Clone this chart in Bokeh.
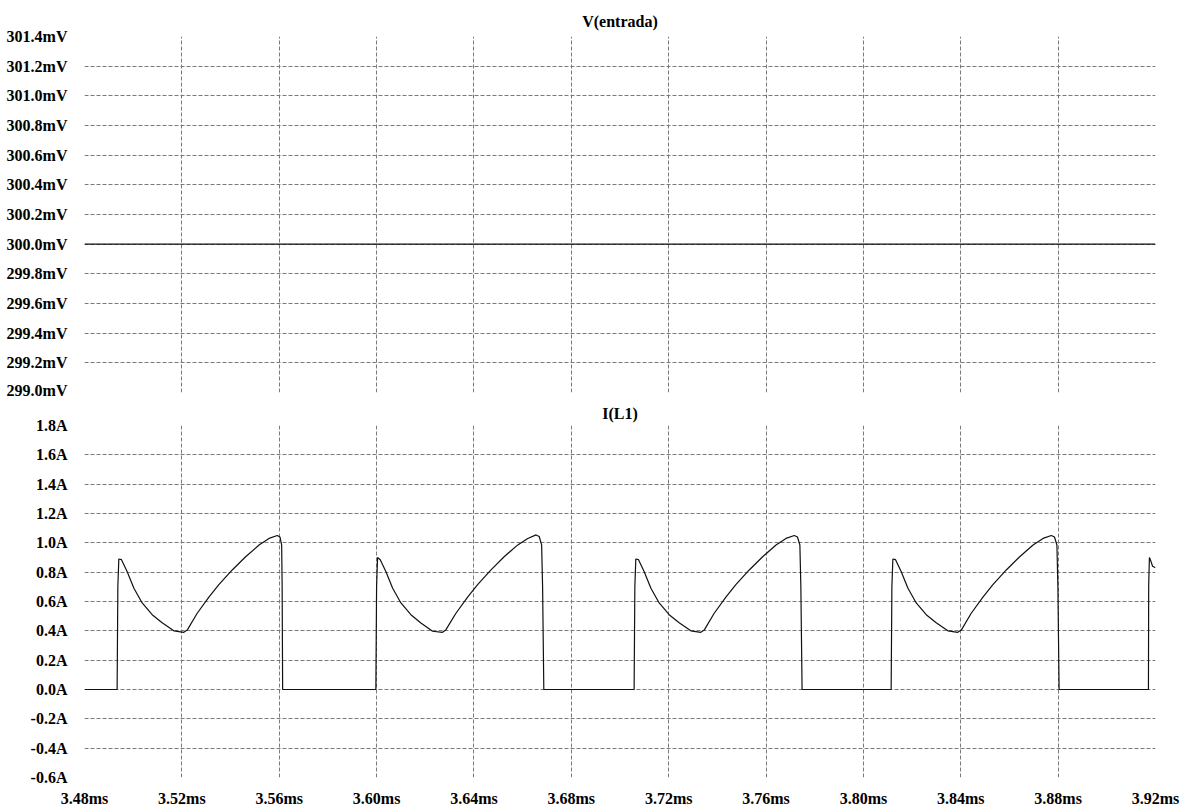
from bokeh.plotting import figure
from bokeh.layouts import column
from bokeh.models import Range1d, FixedTicker, PrintfTickFormatter
from bokeh.embed import file_html
from bokeh.resources import INLINE

# ---------------- data ----------------
x_ticks = [3.48, 3.52, 3.56, 3.60, 3.64, 3.68, 3.72, 3.76, 3.80, 3.84, 3.88, 3.92]
v_ticks = [299.0, 299.2, 299.4, 299.6, 299.8, 300.0, 300.2, 300.4, 300.6, 300.8, 301.0, 301.2, 301.4]
i_ticks = [-0.6, -0.4, -0.2, 0.0, 0.2, 0.4, 0.6, 0.8, 1.0, 1.2, 1.4, 1.6, 1.8]

title_top = "V(entrada)"
title_bottom = "I(L1)"

# V(entrada) in mV vs time in ms
t_v = [3.48, 3.92]
v_entrada = [300.0, 300.0]

# I(L1) in A vs time in ms
t_i = [
    3.4800,
    3.4934, 3.4937, 3.4941, 3.4952, 3.4975, 3.5003, 3.5037, 3.5078, 3.5119, 3.5167, 3.5208, 3.5222,
    3.5263, 3.5311, 3.5352, 3.5407, 3.5462, 3.5517, 3.5558, 3.5592, 3.5603, 3.5610, 3.5612, 3.5614,
    3.5997, 3.6000, 3.6004, 3.6015, 3.6038, 3.6066, 3.6100, 3.6141, 3.6182, 3.6230, 3.6271, 3.6285,
    3.6326, 3.6374, 3.6415, 3.6470, 3.6525, 3.6580, 3.6621, 3.6655, 3.6668, 3.6678, 3.6682, 3.6687,
    3.7058, 3.7061, 3.7065, 3.7076, 3.7099, 3.7127, 3.7161, 3.7202, 3.7243, 3.7291, 3.7332, 3.7346,
    3.7387, 3.7435, 3.7476, 3.7531, 3.7586, 3.7641, 3.7682, 3.7716, 3.7729, 3.7739, 3.7743, 3.7748,
    3.8114, 3.8117, 3.8121, 3.8132, 3.8155, 3.8183, 3.8217, 3.8258, 3.8299, 3.8347, 3.8388, 3.8402,
    3.8443, 3.8491, 3.8532, 3.8587, 3.8642, 3.8697, 3.8738, 3.8772, 3.8785, 3.8795, 3.8799, 3.8804,
    3.9171, 3.9172, 3.9175, 3.9180, 3.9188, 3.9200,
]
i_L1 = [
    0.0,
    0.0, 0.70, 0.89, 0.885, 0.805, 0.69, 0.59, 0.51, 0.455, 0.40, 0.39, 0.405,
    0.52, 0.63, 0.715, 0.815, 0.905, 0.985, 1.03, 1.05, 1.04, 0.985, 0.70, 0.0,
    0.0, 0.70, 0.90, 0.885, 0.805, 0.69, 0.59, 0.51, 0.453, 0.397, 0.39, 0.408,
    0.52, 0.63, 0.715, 0.816, 0.907, 0.986, 1.03, 1.054, 1.043, 0.986, 0.70, 0.0,
    0.0, 0.70, 0.89, 0.885, 0.805, 0.69, 0.59, 0.51, 0.455, 0.40, 0.39, 0.405,
    0.52, 0.63, 0.715, 0.815, 0.905, 0.985, 1.03, 1.05, 1.04, 0.985, 0.70, 0.0,
    0.0, 0.70, 0.89, 0.885, 0.805, 0.69, 0.59, 0.51, 0.455, 0.40, 0.39, 0.405,
    0.52, 0.63, 0.715, 0.815, 0.905, 0.985, 1.03, 1.05, 1.04, 0.985, 0.70, 0.0,
    0.0, 0.71, 0.90, 0.88, 0.84, 0.83,
]

# ---------------- style ----------------
FONT = "Liberation Serif"
FSIZE = "16px"
GRID_COLOR = "#7a7a7a"
GRID_DASH = "4 2"
W = 1185


def style_axis(ax, ticks, fmt, standoff):
    ax.ticker = FixedTicker(ticks=ticks)
    ax.formatter = PrintfTickFormatter(format=fmt)
    ax.axis_line_color = None
    ax.major_tick_line_color = None
    ax.minor_tick_line_color = None
    ax.major_label_text_font = FONT
    ax.major_label_text_font_style = "bold"
    ax.major_label_text_font_size = FSIZE
    ax.major_label_text_color = "black"
    ax.major_label_standoff = standoff


def style(p, yticks, yfmt):
    p.outline_line_color = None
    p.background_fill_color = "white"
    p.border_fill_color = "white"
    for ax in p.yaxis:
        style_axis(ax, yticks, yfmt, 11)
    p.ygrid.ticker = FixedTicker(ticks=yticks[1:-1])
    p.xgrid.ticker = FixedTicker(ticks=x_ticks[1:-1])
    for g in (p.xgrid, p.ygrid):
        g.grid_line_color = GRID_COLOR
        g.grid_line_dash = GRID_DASH
        g.grid_line_width = 1
    p.title.align = "center"
    p.title.text_font = FONT
    p.title.text_font_style = "bold"
    p.title.text_font_size = FSIZE
    p.title.text_color = "black"


p1 = figure(width=W, height=398, title=title_top,
            x_range=Range1d(x_ticks[0], x_ticks[-1]),
            y_range=Range1d(v_ticks[0], v_ticks[-1]),
            output_backend="svg", toolbar_location=None,
            min_border_left=84, min_border_right=30,
            min_border_top=36, min_border_bottom=6)
style(p1, v_ticks, "%.1fmV")
p1.xaxis.visible = False
p1.title.standoff = 13
p1.line(t_v, v_entrada, color="#111111", line_width=1.2)

p2 = figure(width=W, height=412, title=title_bottom,
            x_range=Range1d(x_ticks[0], x_ticks[-1]),
            y_range=Range1d(i_ticks[0], i_ticks[-1]),
            output_backend="svg", toolbar_location=None,
            min_border_left=84, min_border_right=30,
            min_border_top=27, min_border_bottom=33)
style(p2, i_ticks, "%.1fA")
p2.title.standoff = 7
for ax in p2.xaxis:
    style_axis(ax, x_ticks, "%.2fms", 6)
p2.line(t_i, i_L1, color="#111111", line_width=1.2)

layout = column(p1, p2, spacing=0)
open("out.html", "w").write(file_html(layout, INLINE))
